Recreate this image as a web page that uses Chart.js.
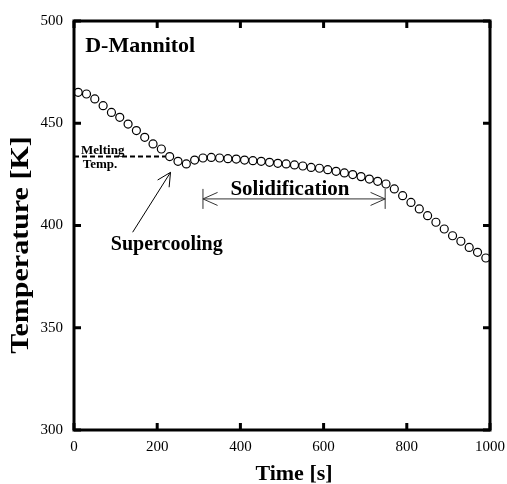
<!DOCTYPE html>
<html>
<head>
<meta charset="utf-8">
<script src="https://cdn.jsdelivr.net/npm/chart.js@4/dist/chart.umd.min.js"></script>
<style>
  html, body { margin: 0; padding: 0; background: #fff; }
  canvas { display: block; }
</style>
</head>
<body>
<canvas id="coolingChart" width="507" height="484"></canvas>
<script>
// cooling curve of D-Mannitol, one reading every 20 s
const timeS = [10, 30, 50, 70, 90, 110, 130, 150, 170, 190,
  210, 230, 250, 270, 290, 310, 330, 350, 370, 390,
  410, 430, 450, 470, 490, 510, 530, 550, 570, 590,
  610, 630, 650, 670, 690, 710, 730, 750, 770, 790,
  810, 830, 850, 870, 890, 910, 930, 950, 970, 990];
const tempK = [465.1, 464.3, 461.9, 458.6, 455.3, 452.9, 449.6, 446.4, 443.1, 439.9,
  437.4, 433.7, 431.4, 430.1, 432.0, 433.0, 433.3, 433.0, 432.7, 432.5,
  432.0, 431.7, 431.4, 430.9, 430.4, 430.1, 429.6, 429.1, 428.4, 428.0,
  427.3, 426.5, 425.7, 424.9, 423.9, 422.7, 421.6, 420.3, 417.9, 414.6,
  411.3, 408.1, 404.8, 401.6, 398.3, 395.0, 392.3, 389.3, 386.9, 384.1];

const xTicks = [0, 200, 400, 600, 800, 1000];
const yTicks = [300, 350, 400, 450, 500];

const meltingTemp = 433.7;
const meltingLineEnd = 220;
const solidStart = 310, solidEnd = 748, solidLevel = 413;
const superFrom = [141, 396.7], superTo = [232, 426];

const SERIF = '"Liberation Serif", "Times New Roman", serif';

function arrowHead(ctx, tx, ty, fromX, fromY, len, spread) {
  const a = Math.atan2(fromY - ty, fromX - tx);
  ctx.beginPath();
  ctx.moveTo(tx + len * Math.cos(a + spread), ty + len * Math.sin(a + spread));
  ctx.lineTo(tx, ty);
  ctx.lineTo(tx + len * Math.cos(a - spread), ty + len * Math.sin(a - spread));
  ctx.stroke();
}

const framePlugin = {
  id: 'frame',
  afterDatasetsDraw(chart) {
    const {ctx, chartArea: a, scales: {x, y}} = chart;
    ctx.save();
    ctx.strokeStyle = '#000';
    ctx.lineWidth = 3;
    ctx.strokeRect(a.left, a.top, a.right - a.left, a.bottom - a.top);
    // inward ticks on all four sides
    const len = 7;
    ctx.beginPath();
    xTicks.forEach(v => {
      const px = x.getPixelForValue(v);
      ctx.moveTo(px, a.bottom); ctx.lineTo(px, a.bottom - len);
      ctx.moveTo(px, a.top); ctx.lineTo(px, a.top + len);
    });
    yTicks.forEach(v => {
      const py = y.getPixelForValue(v);
      ctx.moveTo(a.left, py); ctx.lineTo(a.left + len, py);
      ctx.moveTo(a.right, py); ctx.lineTo(a.right - len, py);
    });
    ctx.stroke();

    // axis titles
    ctx.fillStyle = '#000';
    ctx.textAlign = 'center';
    ctx.textBaseline = 'middle';
    ctx.font = 'bold 22px ' + SERIF;
    ctx.fillText('Time [s]', 294, 474);

    ctx.translate(22, 245);
    ctx.rotate(-Math.PI / 2);
    ctx.scale(1.2, 1);
    ctx.font = 'bold 25px ' + SERIF;
    ctx.fillText('Temperature [K]', 0, 0);
    ctx.restore();
  }
};

const notesPlugin = {
  id: 'notes',
  afterDatasetsDraw(chart) {
    const {ctx, scales: {x, y}} = chart;
    const X = v => x.getPixelForValue(v);
    const Y = v => y.getPixelForValue(v);
    ctx.save();

    // melting temperature
    ctx.strokeStyle = '#000';
    ctx.lineWidth = 2;
    ctx.setLineDash([5, 3]);
    ctx.beginPath();
    ctx.moveTo(X(0), Y(meltingTemp));
    ctx.lineTo(X(meltingLineEnd), Y(meltingTemp));
    ctx.stroke();
    ctx.setLineDash([]);

    ctx.fillStyle = '#000';
    ctx.textBaseline = 'alphabetic';
    ctx.textAlign = 'left';
    ctx.font = 'bold 13px ' + SERIF;
    ctx.fillText('Melting', X(17), Y(435));
    ctx.fillText('Temp.', X(21), Y(428));

    ctx.font = 'bold 22px ' + SERIF;
    ctx.fillText('D-Mannitol', X(27), Y(484.8));

    // solidification span
    ctx.strokeStyle = '#333';
    ctx.lineWidth = 1;
    const sx0 = X(solidStart), sx1 = X(solidEnd), sy = Y(solidLevel);
    ctx.beginPath();
    ctx.moveTo(sx0, sy); ctx.lineTo(sx1, sy);
    ctx.moveTo(sx0, sy - 10); ctx.lineTo(sx0, sy + 10);
    ctx.moveTo(sx1, sy - 10); ctx.lineTo(sx1, sy + 10);
    ctx.stroke();
    arrowHead(ctx, sx0, sy, sx1, sy, 16, 0.42);
    arrowHead(ctx, sx1, sy, sx0, sy, 16, 0.42);

    ctx.textAlign = 'center';
    ctx.font = 'bold 21px ' + SERIF;
    ctx.fillText('Solidification', X(519), Y(415));

    // supercooling pointer
    ctx.strokeStyle = '#000';
    const fx = X(superFrom[0]), fy = Y(superFrom[1]);
    const tx = X(superTo[0]), ty = Y(superTo[1]);
    ctx.beginPath();
    ctx.moveTo(fx, fy); ctx.lineTo(tx, ty);
    ctx.stroke();
    arrowHead(ctx, tx, ty, fx, fy, 15, 0.47);

    ctx.font = 'bold 20px ' + SERIF;
    ctx.fillText('Supercooling', X(223), Y(388));
    ctx.restore();
  }
};

new Chart(document.getElementById('coolingChart'), {
  type: 'scatter',
  data: {
    datasets: [{
      data: timeS.map((t, i) => ({x: t, y: tempK[i]})),
      pointRadius: 4,
      pointBorderWidth: 1.2,
      pointBorderColor: '#000',
      pointBackgroundColor: 'rgba(0,0,0,0)',
      showLine: false
    }]
  },
  options: {
    responsive: false,
    animation: false,
    layout: { padding: { left: 0, right: 17, top: 21, bottom: 0 } },
    plugins: { legend: { display: false }, tooltip: { enabled: false } },
    scales: {
      x: {
        type: 'linear',
        min: 0, max: 1000,
        afterBuildTicks: s => { s.ticks = xTicks.map(v => ({value: v})); },
        afterFit: s => { s.height = 54; s.paddingLeft = 0; s.paddingRight = 0; },
        grid: { display: false, drawTicks: false },
        border: { display: false },
        ticks: {
          color: '#000', padding: 8, maxRotation: 0,
          callback: v => String(v),
          font: { family: SERIF, size: 15 }
        }
      },
      y: {
        min: 300, max: 500,
        afterBuildTicks: s => { s.ticks = yTicks.map(v => ({value: v})); },
        afterFit: s => { s.width = 74; s.paddingTop = 0; s.paddingBottom = 0; },
        grid: { display: false, drawTicks: false },
        border: { display: false },
        ticks: {
          color: '#000', padding: 11,
          callback: v => String(v),
          font: { family: SERIF, size: 15 }
        }
      }
    }
  },
  plugins: [framePlugin, notesPlugin]
});
</script>
</body>
</html>
